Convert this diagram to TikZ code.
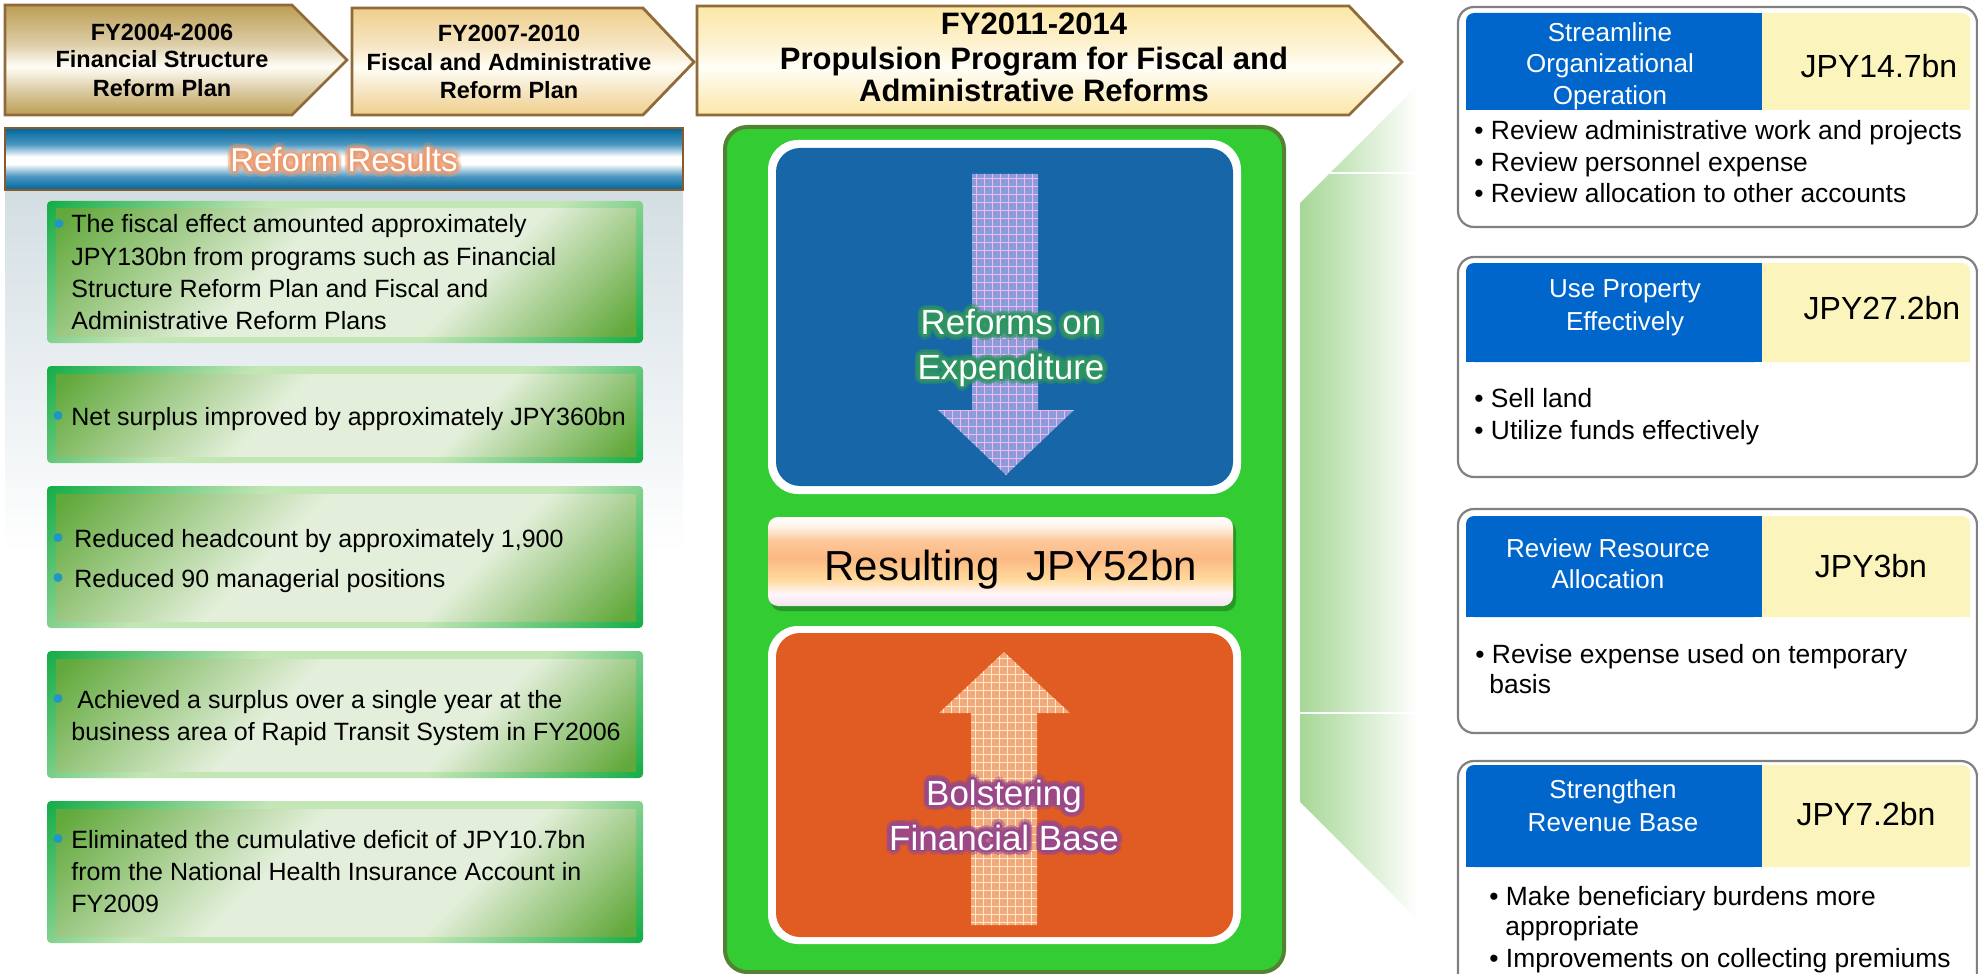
\documentclass[tikz,border=0pt]{standalone}
\usepackage{fontspec}
\setmainfont{Liberation Sans}
\usetikzlibrary{calc}

% palette
\definecolor{chvline}{HTML}{8F6A3A}
\definecolor{goldA}{HTML}{BC9E53}
\definecolor{goldB}{HTML}{EFCE8B}
\definecolor{goldC}{HTML}{FCE7A6}
\colorlet{goldAm}{goldA!50!white}
\colorlet{goldBm}{goldB!50!white}
\colorlet{goldCm}{goldC!50!white}
\definecolor{paleW}{HTML}{FFFEF6}
\definecolor{bandblue}{HTML}{00659B}
\definecolor{bandmid}{HTML}{4A96C0}
\definecolor{bandline}{HTML}{8B5A2B}
\definecolor{panel}{HTML}{D3DEE3}
\definecolor{frmdark}{HTML}{18AE4A}
\definecolor{frmlight}{HTML}{C3E6B5}
\definecolor{inndark}{HTML}{62A93C}
\definecolor{innlight}{HTML}{E3EFDA}
\definecolor{dotblue}{HTML}{1E96C8}
\definecolor{core}{HTML}{33CC33}
\definecolor{coreline}{HTML}{548235}
\definecolor{expblue}{HTML}{1666A8}
\definecolor{revorange}{HTML}{E05C22}
\definecolor{downfill}{HTML}{8C9CDA}
\definecolor{downgrid}{HTML}{F2B8F0}
\definecolor{upfill}{HTML}{F2AA7C}
\definecolor{upgrid}{HTML}{FFEAC8}
\definecolor{glowgreen}{HTML}{2E9462}
\definecolor{glowpurple}{HTML}{9A4888}
\definecolor{glowamber}{HTML}{EC9A6E}
\definecolor{wedge}{HTML}{A6D796}
\definecolor{cardline}{HTML}{808080}
\definecolor{cardblue}{HTML}{0066CC}
\definecolor{cardyel}{HTML}{FBF4BC}
\definecolor{resA}{HTML}{F3E4EC}
\definecolor{resB}{HTML}{FFF6FA}
\definecolor{resC}{HTML}{FFDA9C}
\definecolor{resD}{HTML}{FBB882}
\definecolor{resE}{HTML}{FDC99C}
\definecolor{resF}{HTML}{FFF4EA}

% shadings (the path box spans 25bp..75bp, bottom to top)
\pgfdeclareverticalshading{chvA}{100bp}{color(0bp)=(goldA); color(25bp)=(goldA); color(37bp)=(goldAm); color(47bp)=(paleW); color(57bp)=(goldAm); color(75bp)=(goldA); color(100bp)=(goldA)}
\pgfdeclareverticalshading{chvB}{100bp}{color(0bp)=(goldB); color(25bp)=(goldB); color(37bp)=(goldBm); color(47bp)=(paleW); color(57bp)=(goldBm); color(75bp)=(goldB); color(100bp)=(goldB)}
\pgfdeclareverticalshading{chvC}{100bp}{color(0bp)=(goldC); color(25bp)=(goldC); color(37bp)=(goldCm); color(47bp)=(paleW); color(57bp)=(goldCm); color(75bp)=(goldC); color(100bp)=(goldC)}
\pgfdeclareverticalshading{band}{100bp}{color(0bp)=(bandblue); color(25bp)=(bandblue); color(36bp)=(bandmid); color(46bp)=(white); color(52bp)=(white); color(62bp)=(bandmid); color(75bp)=(bandblue); color(100bp)=(bandblue)}
\pgfdeclareverticalshading{gframe}{100bp}{color(0bp)=(frmdark); color(15bp)=(frmdark); color(36bp)=(frmlight); color(64bp)=(frmlight); color(85bp)=(frmdark); color(100bp)=(frmdark)}
\pgfdeclareverticalshading{ginner}{100bp}{color(0bp)=(inndark); color(16bp)=(inndark); color(36bp)=(innlight); color(58bp)=(innlight); color(84bp)=(inndark); color(100bp)=(inndark)}
\pgfdeclareverticalshading{resbox}{100bp}{color(0bp)=(resA); color(25bp)=(resA); color(32bp)=(resB); color(40bp)=(resC); color(52bp)=(resD); color(62bp)=(resE); color(70bp)=(resF); color(75bp)=(white); color(100bp)=(white)}

\newcommand\fsz[1]{\fontsize{#1}{#1}\selectfont}

% white lettering with a soft coloured halo made of shifted copies
\newcommand\glowtext[8]{% name, x, y, halo colour, font, outer opacity, inner opacity, text
  \foreach \ang in {0,30,...,330}{
    \node[glyph, font=#5, text=#4, opacity=#6] (#1-o\ang) at ($(#2,#3)+(\ang:5.5)$) {#8};
  }
  \foreach \ang in {0,45,...,315}{
    \node[glyph, font=#5, text=#4, opacity=#7] (#1-i\ang) at ($(#2,#3)+(\ang:2.8)$) {#8};
  }
  \node[glyph, font=#5, text=white] (#1) at (#2,#3) {#8};
}

% green result panel on the left
\newcommand\resultbox[2]{%
  \shade[shading=gframe, shading angle=45, rounded corners=2pt] (47,#1) rectangle (643,#2);
  \shade[shading=ginner, shading angle=45] (56,{#1+8}) rectangle (636,{#2-7});
}

% white card with blue title and yellow amount
\newcommand\card[4]{% outer top, outer bottom, header top, header bottom
  \draw[cardline, line width=1.1pt, fill=white, rounded corners=8pt] (1458,#1) rectangle (1977,#2);
  \fill[cardblue, rounded corners=4pt] (1466,#3) rectangle (1762,#4);
  \fill[cardblue] (1490,#3) rectangle (1762,#4);
  \fill[cardblue] (1466,{#3+20}) rectangle (1762,#4);
  \fill[cardyel, rounded corners=4pt] (1762,#3) rectangle (1970,#4);
  \fill[cardyel] (1762,#3) rectangle (1945,#4);
  \fill[cardyel] (1762,{#3+20}) rectangle (1970,#4);
}

\begin{document}
\begin{tikzpicture}[x=0.5pt, y=-0.5pt,
  glyph/.style={anchor=base, inner sep=0pt, outer sep=0pt},
  chvtext/.style={anchor=base, inner sep=0pt, font=\bfseries\fsz{11.75}},
  chvbig/.style={anchor=base, inner sep=0pt, font=\bfseries\fsz{15.5}},
  lefttext/.style={anchor=base west, inner sep=0pt, font=\fsz{12.5}},
  hdrtext/.style={anchor=base, inner sep=0pt, font=\fsz{13}, text=white},
  amount/.style={anchor=base, inner sep=0pt, font=\fsz{16}},
  cardtext/.style={anchor=base west, inner sep=0pt, font=\fsz{13.2}},
  chevron/.style={draw=chvline, line width=1.4pt, line join=miter}]

\useasboundingbox (0,0) rectangle (1978,974);
\clip (0,0) rectangle (1978,974);
\fill[white] (0,0) rectangle (1978,974);

% ---------- programme chevrons ----------
\shadedraw[chevron, shading=chvA] (5,5) -- (292,5) -- (347,60) -- (292,115) -- (5,115) -- cycle;
\shadedraw[chevron, shading=chvB] (352,8) -- (643,8) -- (694,62) -- (643,115) -- (352,115) -- cycle;
\shadedraw[chevron, shading=chvC] (697,6) -- (1349,6) -- (1402,62) -- (1349,115) -- (697,115) -- cycle;

\node[chvtext] (p1a) at (162,41) {FY2004-2006};
\node[chvtext] (p1b) at (162,68) {Financial Structure};
\node[chvtext] (p1c) at (162,97) {Reform Plan};
\node[chvtext] (p2a) at (509,42) {FY2007-2010};
\node[chvtext] (p2b) at (509,71) {Fiscal and Administrative};
\node[chvtext] (p2c) at (509,99) {Reform Plan};
\node[chvbig] (p3a) at (1034,35) {FY2011-2014};
\node[chvbig] (p3b) at (1034,70) {Propulsion Program for Fiscal and};
\node[chvbig] (p3c) at (1034,102) {Administrative Reforms};

% ---------- reform results column ----------
\shade[top color=panel, bottom color=white] (5,190) rectangle (683,553);
\shadedraw[shading=band, draw=bandline, line width=1pt] (5,128) rectangle (683,190);
\glowtext{rr}{344}{172}{glowamber}{\fsz{16.5}}{0.22}{0.55}{Reform Results}

\resultbox{201}{343}
\resultbox{366}{463}
\resultbox{486}{628}
\resultbox{651}{778}
\resultbox{801}{943}

\fill[dotblue] (59,223.5) circle (4.5);
\node[lefttext] (r1a) at (71,233) {The fiscal effect amounted approximately};
\node[lefttext] (r1b) at (71,265) {JPY130bn from programs such as Financial};
\node[lefttext] (r1c) at (71,297) {Structure Reform Plan and Fiscal and};
\node[lefttext] (r1d) at (71,329) {Administrative Reform Plans};

\fill[dotblue] (58,415.5) circle (4.5);
\node[lefttext] (r2a) at (71,425) {Net surplus improved by approximately JPY360bn};

\fill[dotblue] (58,537.5) circle (4.5);
\node[lefttext] (r3a) at (74,547) {Reduced headcount by approximately 1,900};
\fill[dotblue] (58,577.5) circle (4.5);
\node[lefttext] (r3b) at (74,587) {Reduced 90 managerial positions};

\fill[dotblue] (58,698.5) circle (4.5);
\node[lefttext] (r4a) at (77,708) {Achieved a surplus over a single year at the};
\node[lefttext] (r4b) at (71,740) {business area of Rapid Transit System in FY2006};

\fill[dotblue] (58,838.5) circle (4.5);
\node[lefttext] (r5a) at (71,848) {Eliminated the cumulative deficit of JPY10.7bn};
\node[lefttext] (r5b) at (71,880) {from the National Health Insurance Account in};
\node[lefttext] (r5c) at (71,912) {FY2009};

% ---------- fanning band towards the measures ----------
\shade[left color=wedge, right color=white] (1300,203) -- (1418,85) -- (1418,920) -- (1300,802) -- cycle;
\draw[white, line width=0.8pt] (1330,173) -- (1418,173);
\draw[white, line width=0.8pt] (1300,713) -- (1418,713);

% ---------- central programme panel ----------
\draw[fill=core, draw=coreline, line width=2pt, rounded corners=11pt] (725,127) rectangle (1284,972);

% reforms on expenditure
\fill[white, rounded corners=15pt] (768,140) rectangle (1241,494);
\fill[expblue, rounded corners=12pt] (776,148) rectangle (1233,486);
\begin{scope}
  \clip (972,174) -- (1038,174) -- (1038,410) -- (1074,410) -- (1006,475) -- (938,410) -- (972,410) -- cycle;
  \fill[downfill] (930,170) rectangle (1080,480);
  \foreach \gx in {936,944,...,1080} \draw[downgrid, line width=0.35pt] (\gx,170) -- (\gx,480);
  \foreach \gy in {178,186,...,480} \draw[downgrid, line width=0.35pt] (930,\gy) -- (1080,\gy);
\end{scope}
\glowtext{exa}{1011}{335}{glowgreen}{\fsz{17.5}}{0.45}{1}{Reforms on}
\glowtext{exb}{1011}{379}{glowgreen}{\fsz{17.5}}{0.45}{1}{Expenditure}

% overall result
\fill[black, opacity=0.25, rounded corners=5pt] (771,521) rectangle (1236,611);
\shade[shading=resbox, rounded corners=5pt] (768,517) rectangle (1233,606);
\node[anchor=base west, inner sep=0pt, font=\fsz{21}] (total) at (824,580) {Resulting\hspace{13.5pt}JPY52bn};

% bolstering financial base
\fill[white, rounded corners=15pt] (768,626) rectangle (1241,944);
\fill[revorange, rounded corners=12pt] (776,633) rectangle (1233,937);
\begin{scope}
  \clip (971,925) -- (971,713) -- (939,713) -- (1004,652) -- (1070,713) -- (1037,713) -- (1037,925) -- cycle;
  \fill[upfill] (930,645) rectangle (1080,930);
  \foreach \gx in {935,943,...,1080} \draw[upgrid, line width=0.35pt] (\gx,645) -- (\gx,930);
  \foreach \gy in {650,658,...,930} \draw[upgrid, line width=0.35pt] (930,\gy) -- (1080,\gy);
\end{scope}
\glowtext{bfa}{1004}{805}{glowpurple}{\fsz{17.5}}{0.45}{1}{Bolstering}
\glowtext{bfb}{1004}{850}{glowpurple}{\fsz{17.5}}{0.45}{1}{Financial Base}

% ---------- measure cards ----------
\card{7}{227}{13}{110}
\node[hdrtext] (m1a) at (1610,42) {Streamline};
\node[hdrtext] (m1b) at (1610,73) {Organizational};
\node[hdrtext] (m1c) at (1610,105) {Operation};
\node[amount] (m1v) at (1879,78) {JPY14.7bn};
\node[cardtext] (m1x) at (1474,140) {• Review administrative work and projects};
\node[cardtext] (m1y) at (1474,172) {• Review personnel expense};
\node[cardtext] (m1z) at (1474,203) {• Review allocation to other accounts};

\card{257}{477}{263}{362}
\node[hdrtext] (m2a) at (1625,298) {Use Property};
\node[hdrtext] (m2b) at (1625,330) {Effectively};
\node[amount] (m2v) at (1882,320) {JPY27.2bn};
\node[cardtext] (m2x) at (1474,407) {• Sell land};
\node[cardtext] (m2y) at (1474,439) {• Utilize funds effectively};

\card{509}{733}{516}{617}
\node[hdrtext] (m3a) at (1608,557) {Review Resource};
\node[hdrtext] (m3b) at (1608,588) {Allocation};
\node[amount] (m3v) at (1871,577) {JPY3bn};
\node[cardtext] (m3x) at (1475,663) {• Revise expense used on temporary};
\node[cardtext] (m3y) at (1489,693) {basis};

\card{761}{1000}{765}{867}
\node[hdrtext] (m4a) at (1613,798) {Strengthen};
\node[hdrtext] (m4b) at (1613,831) {Revenue Base};
\node[amount] (m4v) at (1866,825) {JPY7.2bn};
\node[cardtext] (m4x) at (1489,905) {• Make beneficiary burdens more};
\node[cardtext] (m4y) at (1505,935) {appropriate};
\node[cardtext] (m4z) at (1489,967) {• Improvements on collecting premiums};

\end{tikzpicture}
\end{document}
